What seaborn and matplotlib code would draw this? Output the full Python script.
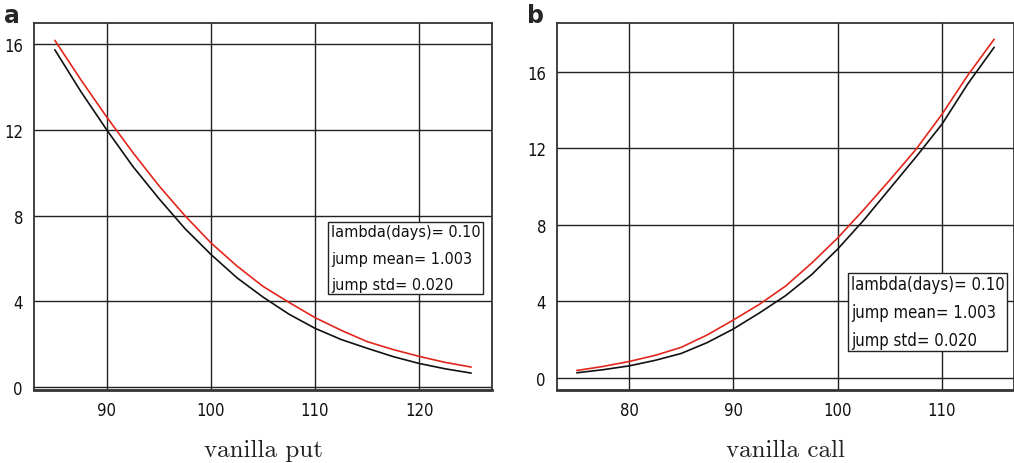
import numpy as np
import pandas as pd
import matplotlib
matplotlib.use("Agg")
import matplotlib.pyplot as plt
import seaborn as sns

# ---- data ----
put_x = [85, 87.5, 90, 92.5, 95, 97.5, 100, 102.5, 105, 107.5, 110, 112.5, 115, 117.5, 120, 122.5, 125]
put_model = [15.75, 13.8, 12.0, 10.3, 8.8, 7.4, 6.19, 5.1, 4.2, 3.4, 2.74, 2.22, 1.81, 1.42, 1.10, 0.85, 0.65]
put_mc = [16.19, 14.35, 12.6, 10.95, 9.4, 8.0, 6.73, 5.65, 4.7, 3.95, 3.24, 2.65, 2.12, 1.75, 1.43, 1.15, 0.93]

call_x = [75, 77.5, 80, 82.5, 85, 87.5, 90, 92.5, 95, 97.5, 100, 102.5, 105, 107.5, 110, 112.5, 115]
call_model = [0.27, 0.43, 0.63, 0.92, 1.28, 1.85, 2.56, 3.4, 4.3, 5.4, 6.74, 8.25, 9.9, 11.55, 13.27, 15.4, 17.29]
call_mc = [0.39, 0.6, 0.86, 1.18, 1.6, 2.25, 3.03, 3.85, 4.8, 6.0, 7.32, 8.8, 10.35, 11.95, 13.79, 15.85, 17.71]

put_xticks = [90, 100, 110, 120]
call_xticks = [80, 90, 100, 110]
yticks = [0, 4, 8, 12, 16]
box_text = "lambda(days)= 0.10\njump mean= 1.003\njump std= 0.020"

sns.set_style("white")
plt.rcParams['font.family'] = ['DejaVu Sans']

fig = plt.figure(figsize=(10.14, 4.64), dpi=100)
W, H = 1014, 464
def add_ax(l, t, r, b):
    return fig.add_axes([l / W, 1 - b / H, (r - l) / W, (b - t) / H])

axA = add_ax(34, 24, 492, 391)
axB = add_ax(557, 24, 1014, 391)

def style(ax, xticks, xlim, ylim):
    ax.set_xlim(*xlim)
    ax.set_ylim(*ylim)
    ax.set_xticks(xticks)
    ax.set_yticks(yticks)
    ax.grid(True, color='#222222', linewidth=1.0)
    ax.set_axisbelow(True)
    for s in ax.spines.values():
        s.set_visible(True)
        s.set_color('#333333')
        s.set_linewidth(1.3)
    ax.spines['bottom'].set_linewidth(2.0)
    ax.tick_params(axis='both', length=0, pad=8, labelsize=12, colors='#111111')
    for lab in ax.get_xticklabels() + ax.get_yticklabels():
        lab.set_fontstretch('condensed')
    ax.set_ylabel('')

dfA = pd.DataFrame({'x': put_x, 'model': put_model, 'mc': put_mc})
dfB = pd.DataFrame({'x': call_x, 'model': call_model, 'mc': call_mc})

for ax, df in [(axA, dfA), (axB, dfB)]:
    sns.lineplot(data=df, x='x', y='mc', ax=ax, color='#e3261c', linewidth=1.2)
    sns.lineplot(data=df, x='x', y='model', ax=ax, color='#111111', linewidth=1.2)

style(axA, put_xticks, (83.0, 127.0), (-0.14, 17.0))
style(axB, call_xticks, (73.1, 116.9), (-0.63, 18.56))

axA.set_xlabel('vanilla put', family='cmr10', size=18, labelpad=14, color='#222222')
axB.set_xlabel('vanilla call', family='cmr10', size=18, labelpad=14, color='#222222')

bbox = dict(boxstyle='square,pad=0.15', facecolor='white', edgecolor='#222222', linewidth=1.0)
axA.text(0.648, 0.452, box_text, transform=axA.transAxes, ha='left', va='top',
         fontsize=11.6, fontstretch='condensed', linespacing=1.95, bbox=bbox, color='#111111')
axB.text(0.643, 0.313, box_text, transform=axB.transAxes, ha='left', va='top',
         fontsize=12, fontstretch='condensed', linespacing=1.7, bbox=bbox, color='#111111')

fig.text(4 / W, 1 - 16 / H, 'a', fontsize=17, fontweight='bold', va='center', ha='left')
fig.text(527 / W, 1 - 16 / H, 'b', fontsize=17, fontweight='bold', va='center', ha='left')

fig.savefig('out.png', dpi=100)
